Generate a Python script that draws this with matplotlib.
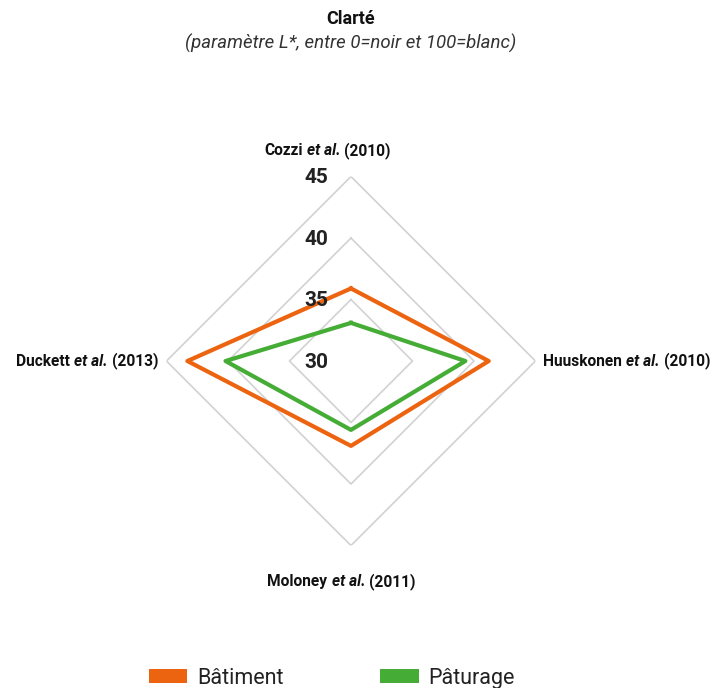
import numpy as np
import matplotlib
matplotlib.use("Agg")
from matplotlib import pyplot as plt
from matplotlib import font_manager as fm
from matplotlib.patches import Patch
from matplotlib.offsetbox import TextArea, HPacker, AnnotationBbox

# Data
studies = ["Cozzi", "Huuskonen", "Moloney", "Duckett"]
years = ["2010", "2010", "2011", "2013"]
batiment = [35.9, 41.2, 36.9, 43.3]
paturage = [33.1, 39.3, 35.6, 40.2]
levels = [35, 40, 45]
tick_labels = ["30", "35", "40", "45"]

orange = '#ec6410'
green = '#45ac36'


# pick plain (non condensed) Roboto files
def roboto(style, weight):
    for f in fm.fontManager.ttflist:
        if f.name == 'Roboto' and f.style == style and f.weight == weight \
                and 'ondensed' not in f.fname:
            return fm.FontProperties(fname=f.fname)
    return fm.FontProperties(family=['Roboto', 'DejaVu Sans'], style=style, weight=weight)


plt.rcParams['font.family'] = ['Roboto', 'DejaVu Sans']

f_reg = roboto('normal', 400)
f_bold = roboto('normal', 700)
f_it = roboto('italic', 400)
f_bit = roboto('italic', 700)

fig = plt.figure(figsize=(7.17, 6.88), dpi=100)
ax = fig.add_axes([0.2322, 0.2071, 0.5146, 0.5363], projection='polar')
ax.set_theta_zero_location('N')
ax.set_theta_direction(-1)
ax.set_ylim(30, 45)
ax.grid(False)
ax.spines['polar'].set_visible(False)
ax.set_xticks([])
ax.set_yticks([])

angles = np.linspace(0, 2 * np.pi, len(studies), endpoint=False)
closed = np.append(angles, angles[0])

# diamond grid
for lv in levels:
    ax.plot(closed, [lv] * len(closed), color='#d2d2d2', lw=1.2, zorder=1)

ax.plot(closed, batiment + batiment[:1], color=orange, lw=3, zorder=3)
ax.plot(closed, paturage + paturage[:1], color=green, lw=3, zorder=3)

# radial tick labels along the top axis
for lab in tick_labels:
    fp = f_bold.copy()
    fp.set_size(15)
    ax.annotate(lab, xy=(0, float(lab)), xytext=(-25, -1), textcoords='offset points',
                ha='center', va='center', fontproperties=fp,
                color='#222222', zorder=4)

# axis labels: "Name et al. (year)" with italic "et al."
label_pos = [
    (0, (-17, 18.7), (0.5, 0.5)),
    (np.pi / 2, (5.5, 0), (0.0, 0.5)),
    (np.pi, (-6.8, -26), (0.5, 0.5)),
    (3 * np.pi / 2, (-6, 0), (1.0, 0.5)),
]
for (name, yr), (th, off, align) in zip(zip(studies, years), label_pos):
    pieces = []
    for s, fp0 in [(name, f_bold), ("et al.", f_bit), ("(" + yr + ")", f_bold)]:
        fp = fp0.copy()
        fp.set_size(11.2)
        pieces.append(TextArea(s, textprops=dict(fontproperties=fp, color='#111111')))
    box = HPacker(children=pieces, pad=0, sep=3, align='baseline')
    ab = AnnotationBbox(box, (th, 45), xybox=off, boxcoords='offset points',
                        box_alignment=align, frameon=False, pad=0,
                        annotation_clip=False)
    ax.add_artist(ab)

fp_t = f_bold.copy()
fp_t.set_size(13)
fig.text(0.4895, 0.973, "Clarté", ha='center', va='center', fontproperties=fp_t,
         color='#111111')
fp_s = f_it.copy()
fp_s.set_size(13.4)
fig.text(0.4895, 0.937, "(paramètre L*, entre 0=noir et 100=blanc)", ha='center',
         va='center', fontproperties=fp_s, color='#333333')

handles = [Patch(facecolor=orange, edgecolor='none'),
           Patch(facecolor=green, edgecolor='none')]
fp_l = f_reg.copy()
fp_l.set_size(15.5)
fig.legend(handles, ["Bâtiment", "Pâturage"], loc='center', ncol=2,
           bbox_to_anchor=(0.463, 0.0145), frameon=False, prop=fp_l,
           handlelength=1.77, handleheight=0.6, handletextpad=0.47,
           columnspacing=4.5, labelcolor='#222222')

fig.savefig('out.png', dpi=100, facecolor='white')
